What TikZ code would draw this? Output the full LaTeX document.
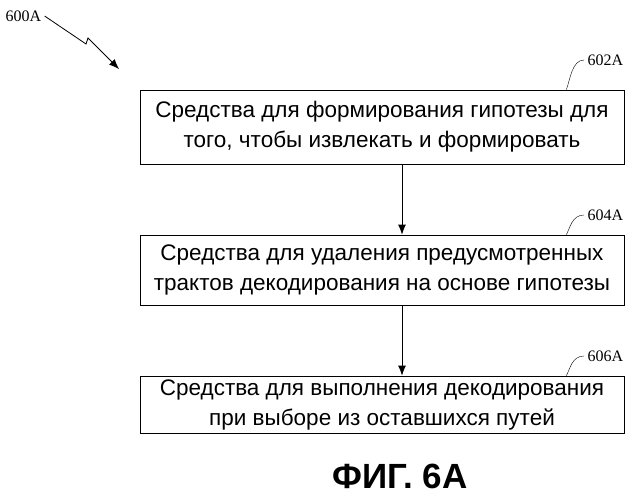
\documentclass[tikz,border=0pt]{standalone}
\usepackage{fontspec}
\setmainfont{Liberation Serif}
\setsansfont{Liberation Sans}
\usetikzlibrary{arrows.meta, positioning}
\tikzset{
  stepbox/.style={draw, thick, minimum width=484pt, align=center, font=\sffamily\fontsize{22.5}{30}\selectfont, inner sep=0pt},
  flow/.style={-{Latex[length=10pt,width=8pt]}, thick},
  reflabel/.style={font=\fontsize{16}{16}\selectfont}
}
\begin{document}
\begin{tikzpicture}[x=1pt,y=-1pt]
\useasboundingbox (0,0) rectangle (639,499);
% boxes
\node[stepbox, minimum height=74pt] (meansA) at (382,127) {Средства для формирования гипотезы для\\того, чтобы извлекать и формировать};
\node[stepbox, minimum height=70pt] (meansB) at (382,270) {Средства для удаления предусмотренных\\трактов декодирования на основе гипотезы};
\node[stepbox, minimum height=57pt] (meansC) at (382,404.5) {Средства для выполнения декодирования\\при выборе из оставшихся путей};
% connectors
\draw[flow] (meansA.south -| 402,0) -- (meansB.north -| 402,0);
\draw[flow] (meansB.south -| 402,0) -- (meansC.north -| 402,0);
% reference labels
\node[reflabel, anchor=west] (refA) at (584,60) {602A};
\node[reflabel, anchor=west] (refB) at (584,215) {604A};
\node[reflabel, anchor=west] (refC) at (584,356) {606A};
\draw (refA.west) .. controls (572,60) and (570,80) .. ([xshift=-58pt]meansA.north east);
\draw (refB.west) .. controls (572,215) and (570,228) .. ([xshift=-58pt]meansB.north east);
\draw (refC.west) .. controls (572,356) and (570,369) .. ([xshift=-58pt]meansC.north east);
% figure id
\node[reflabel, anchor=west] (fig) at (2,16) {600A};
\coordinate (zzA) at (86,44);
\coordinate (zzB) at (88,38);
\draw[flow] (fig.east) -- (zzA) -- (zzB) -- (119,69);
\node[font=\sffamily\bfseries\fontsize{35}{35}\selectfont] (title) at (400,476) {ФИГ. 6A};
\end{tikzpicture}
\end{document}
